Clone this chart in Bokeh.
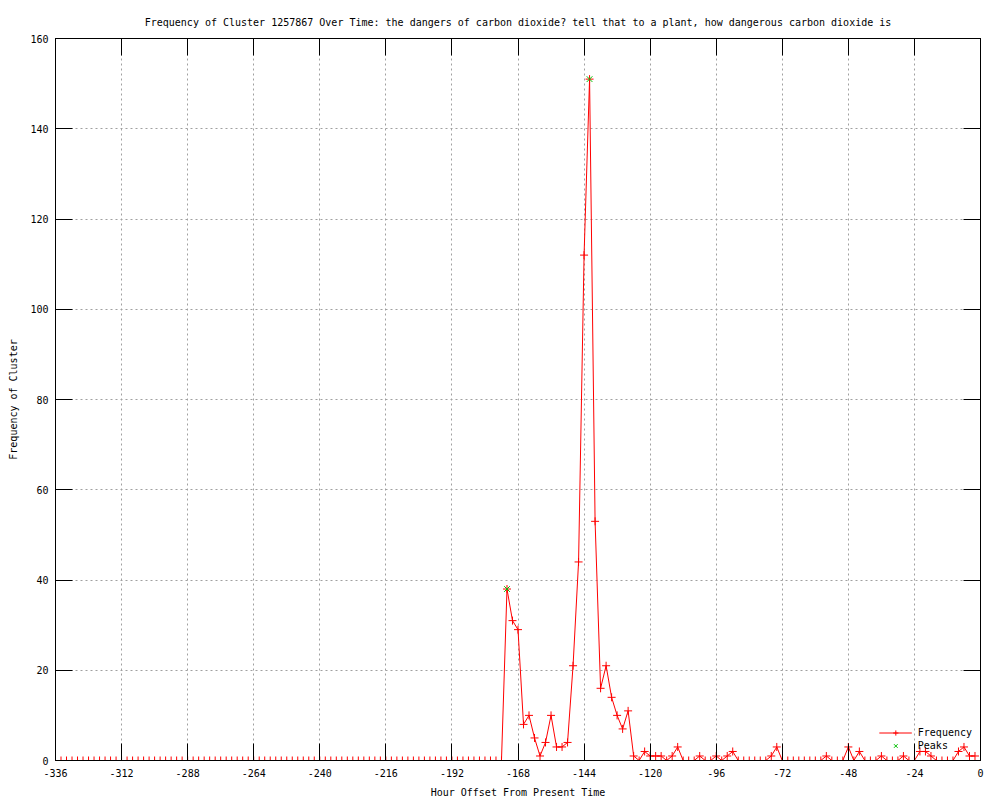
from bokeh.plotting import figure
from bokeh.models import FixedTicker, Range1d, Legend, LegendItem, LinearAxis
from bokeh.embed import file_html
from bokeh.resources import INLINE

# ---- data ----
hours = list(range(-336, 0, 2))
frequency = [
    0, 0, 0, 0, 0, 0, 0, 0, 0, 0, 0, 0, 0, 0, 0, 0, 0, 0, 0, 0,
    0, 0, 0, 0, 0, 0, 0, 0, 0, 0, 0, 0, 0, 0, 0, 0, 0, 0, 0, 0,
    0, 0, 0, 0, 0, 0, 0, 0, 0, 0, 0, 0, 0, 0, 0, 0, 0, 0, 0, 0,
    0, 0, 0, 0, 0, 0, 0, 0, 0, 0, 0, 0, 0, 0, 0, 0, 0, 0, 0, 0,
    0, 0,
    38, 31, 29, 8, 10, 5, 1, 4, 10, 3, 3, 4, 21, 44, 112, 151, 53,
    16, 21, 14, 10, 7, 11, 1, 0,
    2, 1, 1, 1, 0, 1, 3, 0, 0, 0, 1, 0, 0, 1, 0, 1, 2,
    0, 0, 0, 0, 0, 0,
    1, 3,
    0, 0, 0, 0, 0, 0, 0, 0,
    1, 0, 0, 0, 3, 0, 2, 0, 0, 0, 1, 0, 0, 0, 1, 0, 0,
    2, 2, 1, 0, 0, 0, 0, 2, 3, 1, 1,
]
peak_hours = [-172, -142]
peak_values = [38, 151]

x_ticks = [-336, -312, -288, -264, -240, -216, -192, -168, -144, -120, -96, -72, -48, -24, 0]
x_tick_labels = ["-336", "-312", "-288", "-264", "-240", "-216", "-192", "-168",
                 "-144", "-120", "-96", "-72", "-48", "-24", "0"]
y_ticks = [0, 20, 40, 60, 80, 100, 120, 140, 160]
y_tick_labels = ["0", "20", "40", "60", "80", "100", "120", "140", "160"]

title = ("Frequency of Cluster 1257867 Over Time: the dangers of carbon dioxide? "
         "tell that to a plant, how dangerous carbon dioxide is")

FONT = "DejaVu Sans Mono"
FS = "10px"
TICK = 17

p = figure(width=1000, height=800, output_backend="svg", toolbar_location=None,
           x_range=Range1d(-336, 0), y_range=Range1d(0, 160),
           min_border_left=55, min_border_right=20, min_border_top=38, min_border_bottom=40,
           title=title)
p.title.text_font = FONT
p.title.text_font_size = FS
p.title.text_font_style = "normal"
p.title.text_color = "black"
p.title.align = "center"
p.title.standoff = 22

p.outline_line_color = "black"
p.outline_line_width = 1
p.background_fill_color = "white"
p.border_fill_color = "white"

bottom_ax = p.below[0]
left_ax = p.left[0]

# mirrored axes (ticks only)
top_ax = LinearAxis(ticker=FixedTicker(ticks=x_ticks),
                    major_label_overrides={t: "" for t in x_ticks})
right_ax = LinearAxis(ticker=FixedTicker(ticks=y_ticks),
                      major_label_overrides={t: "" for t in y_ticks})
for ax in (top_ax, right_ax):
    ax.major_label_text_font_size = "0px"
    ax.major_label_standoff = 0
p.add_layout(top_ax, "above")
p.add_layout(right_ax, "right")

for ax in (bottom_ax, left_ax, top_ax, right_ax):
    ax.major_label_text_font = FONT
    ax.axis_label_text_font = FONT
    ax.axis_label_text_font_size = FS
    ax.axis_label_text_font_style = "normal"
    ax.axis_label_text_color = "black"
    ax.major_tick_out = 0
    ax.major_tick_in = TICK
    ax.minor_tick_in = 0
    ax.minor_tick_out = 0
    ax.axis_line_color = "black"
    ax.major_tick_line_color = "black"
    ax.major_label_text_color = "black"

bottom_ax.major_label_text_font_size = FS
left_ax.major_label_text_font_size = FS
bottom_ax.ticker = FixedTicker(ticks=x_ticks)
bottom_ax.major_label_overrides = dict(zip(x_ticks, x_tick_labels))
left_ax.ticker = FixedTicker(ticks=y_ticks)
left_ax.major_label_overrides = dict(zip(y_ticks, y_tick_labels))
bottom_ax.axis_label = "Hour Offset From Present Time"
left_ax.axis_label = "Frequency of Cluster"
bottom_ax.major_label_standoff = 8
bottom_ax.axis_label_standoff = 7
left_ax.major_label_standoff = 7
left_ax.axis_label_standoff = 8

p.xgrid.ticker = FixedTicker(ticks=x_ticks)
p.ygrid.ticker = FixedTicker(ticks=y_ticks)
for g in (p.xgrid[0], p.ygrid[0]):
    g.grid_line_color = "#a0a0a0"
    g.grid_line_dash = "2 3"
    g.grid_line_width = 1

line_r = p.line(hours, frequency, line_color="#ff0000", line_width=1)
mark_r = p.scatter(hours, frequency, marker="cross", size=8, line_color="#ff0000", line_width=1)
peak_r = p.scatter(peak_hours, peak_values, marker="x", size=8, line_color="#00c000", line_width=1)

legend = Legend(items=[LegendItem(label="Frequency", renderers=[line_r, mark_r]),
                       LegendItem(label="Peaks", renderers=[peak_r])],
                location="bottom_right")
legend.label_text_font = FONT
legend.label_text_font_size = FS
legend.label_text_color = "black"
legend.border_line_color = None
legend.background_fill_alpha = 0
legend.label_height = 13
legend.glyph_height = 13
legend.glyph_width = 33
legend.spacing = 0
legend.padding = 0
legend.margin = 8
legend.label_standoff = 6
p.add_layout(legend)

open("out.html", "w").write(file_html(p, INLINE))
